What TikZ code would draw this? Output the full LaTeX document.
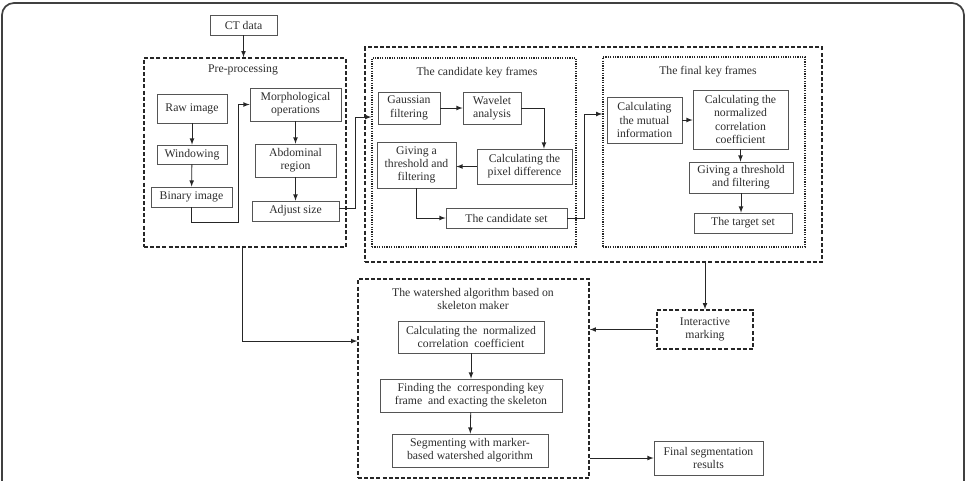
\documentclass[tikz,border=0pt]{standalone}
\usepackage{fontspec}
\setmainfont{Liberation Serif}
\usepackage{tikz}
\usetikzlibrary{arrows,shapes,calc}

\definecolor{txtgray}{RGB}{45,45,45}
\definecolor{linegray}{RGB}{85,85,85}

\begin{document}
\begin{tikzpicture}[x=0.75pt, y=-0.75pt, >=latex,
		every node/.style={font=\rmfamily\fontsize{8.8}{10}\selectfont, text=txtgray, align=center, inner sep=1pt},
		box/.style={draw=linegray, line width=0.6pt},
		groupbox/.style={draw=black!85, line width=1.2pt, dash pattern=on 3pt off 1.6pt},
		framebox/.style={draw=black!85, line width=1.1pt, dash pattern=on 0.9pt off 0.9pt},
		link/.style={->, draw=black!85, line width=0.6pt}]
		\useasboundingbox (0,0) rectangle (967,480);
		% outer frame
		\draw[line width=1.3pt, black!75, rounded corners=9pt] (2,3) rectangle (964,520);
		% input
		\node[box, minimum width=50.25pt, minimum height=15pt] (ct) at (243.5,25) {CT data};
		% pre-processing
		\node[groupbox, minimum width=151.5pt, minimum height=141.75pt] (pre) at (245,152.5) {};
		\node (prelabel) at (243,70) {Pre-processing};
		\node[box, minimum width=52.5pt, minimum height=21.75pt] (raw) at (192,108.5) {Raw image};
		\node[box, minimum width=52.5pt, minimum height=14.25pt] (win) at (192,154.5) {Windowing};
		\node[box, minimum width=60.75pt, minimum height=15pt] (bin) at (191.5,197) {Binary image};
		\node[box, minimum width=68.25pt, minimum height=24.75pt] (morph) at (295.5,104.5) {Morphological\\operations};
		\node[box, minimum width=60.75pt, minimum height=24.75pt] (abd) at (295.5,160.5) {Abdominal\\region};
		\node[box, minimum width=65.25pt, minimum height=15pt] (adj) at (295.5,211) {Adjust size};
		% key frames
		\node[groupbox, minimum width=342.75pt, minimum height=161.25pt] (keyf) at (593.5,154.5) {};
		\node[framebox, minimum width=153pt, minimum height=141.75pt] (cand) at (474,152.5) {};
		\node (candlabel) at (477,73) {The candidate key frames};
		\node[box, minimum width=46.5pt, minimum height=24pt] (gauss) at (409,108) {Gaussian\\filtering};
		\node[box, minimum width=43.5pt, minimum height=24pt] (wave) at (492,108) {Wavelet\\analysis};
		\node[box, minimum width=71.25pt, minimum height=26.25pt] (pixdiff) at (524.5,166.5) {Calculating the\\pixel difference};
		\node[box, minimum width=59.25pt, minimum height=34.5pt] (thrA) at (416.5,165) {Giving a\\threshold and\\filtering};
		\node[box, minimum width=90.75pt, minimum height=15pt] (candset) at (506.5,218) {The candidate set};
		\node[framebox, minimum width=151.5pt, minimum height=142.5pt] (final) at (704,152) {};
		\node (finallabel) at (708,72) {The final key frames};
		\node[box, minimum width=56.25pt, minimum height=34.5pt] (mutual) at (644.5,120) {Calculating\\the mutual\\information};
		\node[box, minimum width=71.25pt, minimum height=44.25pt] (ncc) at (740.5,119.5) {Calculating the\\normalized\\correlation\\coefficient};
		\node[box, minimum width=78pt, minimum height=23.25pt] (thrB) at (741,177.5) {Giving a threshold\\and filtering};
		\node[box, minimum width=73.5pt, minimum height=15pt] (target) at (743,223) {The target set};
		% watershed
		\node[groupbox, minimum width=173.25pt, minimum height=149.25pt] (ws) at (473.5,378.5) {};
		\node (wslabel) at (473,299) {The watershed algorithm based on\\skeleton maker};
		\node[box, minimum width=109.5pt, minimum height=24pt] (nccB) at (471,337) {Calculating the\enspace normalized\\correlation\enspace coefficient};
		\node[box, minimum width=136.5pt, minimum height=24.75pt] (find) at (471,395.5) {Finding the\enspace corresponding key\\frame\enspace and exacting the skeleton};
		\node[box, minimum width=117pt, minimum height=24.75pt] (seg) at (470,450.5) {Segmenting with marker-\\based watershed algorithm};
		\node[groupbox, minimum width=72pt, minimum height=29.25pt] (inter) at (705,329.5) {Interactive\\marking};
		\node[box, minimum width=81.75pt, minimum height=25.5pt] (result) at (708.5,458) {Final segmentation\\results};
		% connectors
		\draw[link] (ct) -- (ct |- pre.north);
		\draw[link] (raw) -- (win);
		\draw[link] (win) -- (bin);
		\draw[link] (bin.south) -- ++(0,15) -| ([xshift=-8.25pt]morph.west) -- (morph.west);
		\draw[link] (morph) -- (abd);
		\draw[link] (abd) -- (adj);
		\draw[link] ([yshift=2pt]adj.east) -- ++(16,0) |- ([yshift=26.6pt]cand.west);
		\draw[link] (gauss) -- (wave);
		\draw[link] (wave.east) -| ([xshift=14.6pt]pixdiff.north);
		\draw[link] (pixdiff.west) -- (pixdiff.west -| thrA.east);
		\draw[link] (thrA.south) |- (candset.west);
		\draw[link] (candset.east) -- ++(17,0) |- ([yshift=28.5pt]final.west);
		\draw[link] (mutual.east) -- (mutual.east -| ncc.west);
		\draw[link] (ncc.south) -- (ncc.south |- thrB.north);
		\draw[link] (thrB.south) -- (thrB.south |- target.north);
		\draw[link] (inter.north |- keyf.south) -- (inter.north);
		\draw[link] (inter.west) -- (inter.west -| ws.east);
		\draw[link] ([xshift=-2pt]pre.south) |- ([yshift=28.1pt]ws.west);
		\draw[link] (nccB) -- (find);
		\draw[link] (find) -- (seg);
		\draw[link] (ws.east |- result.west) -- (result.west);
	\end{tikzpicture}
\end{document}
